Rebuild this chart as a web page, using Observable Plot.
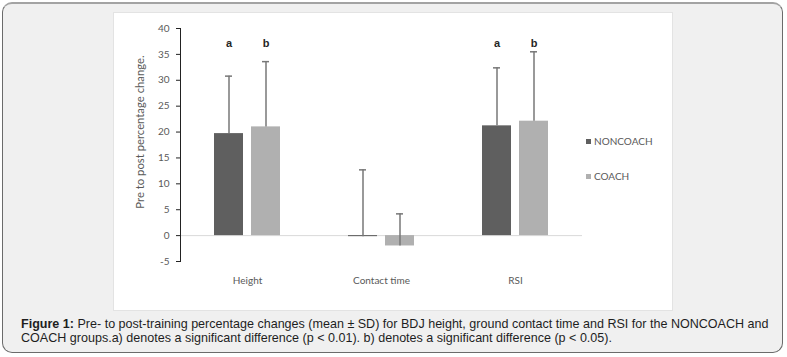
<!DOCTYPE html>
<html><head><meta charset="utf-8">
<script src="https://cdn.jsdelivr.net/npm/d3@7"></script>
<script src="https://cdn.jsdelivr.net/npm/@observablehq/plot@0.6"></script>
<style>
html,body{margin:0;padding:0;background:#fff;width:787px;height:357px;overflow:hidden;position:relative;}
#frame{position:absolute;left:2px;top:2px;width:779px;height:348px;border:1px solid #6b6b6b;border-top:2px solid #a3a3a3;border-radius:10px;background:#f0f0f0;}
#panel{position:absolute;left:113px;top:12px;width:558px;height:297px;background:#fff;border:1px solid #e3e3e3;}
#chart{position:absolute;left:113px;top:12px;}
.leg{position:absolute;font-family:Lato,sans-serif;font-size:10px;color:#595959;line-height:12px;white-space:nowrap;}
.sw{display:inline-block;width:5px;height:5px;margin-right:3px;vertical-align:1px;}
#caption{position:absolute;left:21px;top:317px;font-family:"Liberation Sans",Arial,sans-serif;font-size:12.55px;line-height:14px;color:#1e1e1e;white-space:nowrap;}
</style>
</head><body>
<div id="frame"></div>
<div id="panel"></div>
<div id="chart"></div>
<div id="legend"></div>
<div id="caption"></div>
<script>
const categories = ["Height", "Contact time", "RSI"];
const groups = ["NONCOACH", "COACH"];
const noncoachMean = [19.7, -0.2, 21.2];
const noncoachSD = [11.1, 12.9, 11.2];
const coachMean = [21.0, -2.0, 22.1];
const coachSD = [12.6, 6.2, 13.4];
const noncoachLetter = ["a", "", "a"];
const coachLetter = ["b", "", "b"];
const letterLevel = 36.5;
const yTicks = [-5, 0, 5, 10, 15, 20, 25, 30, 35, 40];
const yLabel = "Pre to post percentage change.";
const groupColors = ["#5f5f5f", "#b0b0b0"];
const captionBold = "Figure 1:";
const captionLine1 = " Pre- to post-training percentage changes (mean ± SD) for BDJ height, ground contact time and RSI for the NONCOACH and";
const captionLine2 = "COACH groups.a) denotes a significant difference (p < 0.01). b) denotes a significant difference (p < 0.05).";

const rows = [];
categories.forEach((c, i) => {
  rows.push({category: c, group: groups[0], mean: noncoachMean[i], sd: noncoachSD[i], letter: noncoachLetter[i]});
  rows.push({category: c, group: groups[1], mean: coachMean[i], sd: coachSD[i], letter: coachLetter[i]});
});

const chart = Plot.plot({
  width: 560, height: 299,
  marginLeft: 66, marginRight: 90, marginTop: 16, marginBottom: 50,
  style: {fontFamily: "Lato, sans-serif", fontSize: "10px", background: "transparent", color: "#595959", overflow: "visible"},
  fx: {domain: categories, padding: 0, label: null, axis: "bottom", tickSize: 0, tickPadding: 15},
  x: {domain: groups, axis: null, paddingInner: 8 / 38, paddingOuter: 0.877},
  y: {domain: [-5, 40], axis: null},
  color: {domain: groups, range: groupColors},
  marks: [
    Plot.ruleY([0], {stroke: "#d9d9d9", strokeWidth: 1}),
    Plot.barY(rows, {fx: "category", x: "group", y: "mean", fill: "group"}),
    Plot.ruleX(rows, {fx: "category", x: "group", y1: "mean", y2: d => d.mean + d.sd, stroke: "#777", strokeWidth: 1.5}),
    Plot.tickY(rows, {fx: "category", x: "group", y: d => d.mean + d.sd, stroke: "#777", strokeWidth: 1.5, insetLeft: 11, insetRight: 11}),
    Plot.text(rows, {fx: "category", x: "group", y: () => letterLevel, text: "letter", lineAnchor: "bottom",
      fontFamily: "Liberation Sans, Arial, sans-serif", fontWeight: "bold", fontSize: 11, fill: "#262626"}),
    Plot.axisY({ticks: yTicks, tickSize: 4, tickPadding: 7, tickFormat: d => String(d), stroke: "#222", fill: "#595959", label: null}),
    Plot.frame({anchor: "left", facetAnchor: "left", stroke: "#222"}),
    Plot.text([yLabel], {frameAnchor: "left", rotate: -90, dx: -40, dy: -13, textAnchor: "middle", facetAnchor: "left", fill: "#595959", fontSize: 11.3, text: d => d})
  ]
});
document.getElementById("chart").appendChild(chart);

const legendTop = [135, 170];
const legend = document.getElementById("legend");
groups.forEach((g, i) => {
  const el = document.createElement("div");
  el.className = "leg";
  el.style.left = "586px";
  el.style.top = legendTop[i] + "px";
  const sw = document.createElement("span");
  sw.className = "sw";
  sw.style.background = groupColors[i];
  el.appendChild(sw);
  el.appendChild(document.createTextNode(g));
  legend.appendChild(el);
});

const cap = document.getElementById("caption");
const b = document.createElement("b");
b.textContent = captionBold;
cap.appendChild(b);
cap.appendChild(document.createTextNode(captionLine1));
cap.appendChild(document.createElement("br"));
cap.appendChild(document.createTextNode(captionLine2));
</script>
</body></html>
